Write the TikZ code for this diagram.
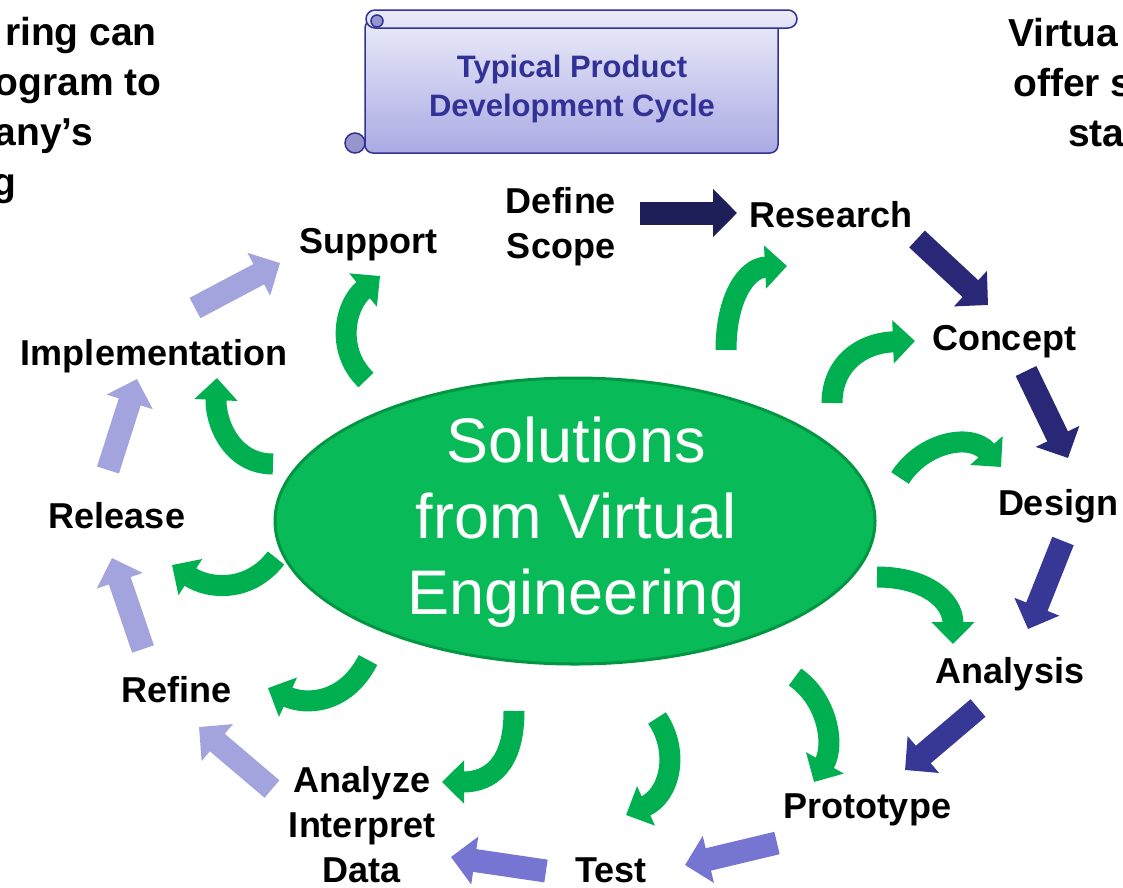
\documentclass[tikz,border=0pt]{standalone}
\usepackage{fontspec}
\setmainfont{Liberation Sans}
\usepackage{tikz}
\usetikzlibrary{arrows.meta,shapes.geometric}
\definecolor{colorhub}{RGB}{8,187,88}
\definecolor{colorrim}{RGB}{0,150,66}
\definecolor{colorback}{RGB}{0,176,80}
\definecolor{colorA}{RGB}{30,30,88}
\definecolor{colorB}{RGB}{40,40,118}
\definecolor{colorC}{RGB}{55,55,150}
\definecolor{colorD}{RGB}{118,118,210}
\definecolor{colorE}{RGB}{163,163,222}
\definecolor{colorink}{RGB}{50,50,150}
\definecolor{colorpapertop}{RGB}{234,234,249}
\definecolor{colorpaperbot}{RGB}{170,170,228}
\definecolor{colorcurl}{RGB}{150,150,205}
\tikzset{phase/.style={inner sep=0pt, font=\bfseries\fontsize{36}{45}\selectfont}}
\tikzset{side/.style={inner sep=0pt, font=\bfseries\fontsize{39}{50}\selectfont}}
\tikzset{paper/.style={draw=colorink, line width=1.5pt, top color=colorpapertop, bottom color=colorpaperbot}}
\tikzset{
  edgeback/.style={colorback, line width=21pt, -{Triangle[length=22pt,width=42pt]}},
  edgeflow/.style={line width=23pt, -{Triangle[length=24pt,width=47pt]}}
}

\begin{document}
\begin{tikzpicture}[x=1pt,y=-1pt]
\useasboundingbox (0,0) rectangle (1123,887);

% cut-off text at the sides
\node[side, anchor=base east](lt1) at (157,45) {ring can};
\node[side, anchor=base east](lt2) at (162,95) {ogram to};
\node[side, anchor=base east](lt3) at (93,145) {any’s};
\node[side, anchor=base east](lt4) at (17,195) {g};
\node[side, anchor=base west](rt1) at (1008,46) {Virtua};
\node[side, anchor=base west](rt2) at (1013,96) {offer s};
\node[side, anchor=base west](rt3) at (1068,146) {sta};

% scroll
\draw[paper, rounded corners=8pt] (365,20) rectangle (778,153);
\draw[paper, top color=colorpapertop, bottom color=colorpapertop!85!colorpaperbot,
  rounded corners=9pt] (366,10) rectangle (797,28);
\draw[draw=colorink, line width=1.5pt, fill=colorcurl] (377,21) circle (6);
\draw[draw=colorink, line width=1.5pt, fill=colorcurl] (355,143) circle (10);
\node[inner sep=0pt, align=center, text=colorink,
  font=\bfseries\fontsize{31}{39}\selectfont](title) at (572,89)
{Typical Product\\Development Cycle};

% hub
\node[ellipse, draw=colorrim, line width=3pt, fill=colorhub,
  minimum width=600pt, minimum height=286pt, inner sep=0pt](hub) at (575,521) {};
\node[inner sep=0pt, align=center, text=white,
  font=\fontsize{63}{76}\selectfont](hubtext) at (576,522)
{Solutions\\from Virtual\\Engineering};

% phases
\node[phase, align=center](scope) at (561,227) {Define\\Scope};
\node[phase, anchor=base](research) at (831,227) {Research};
\node[phase, anchor=base](concept) at (1004,350) {Concept};
\node[phase, anchor=base](design) at (1058,515) {Design};
\node[phase, anchor=base](analysis) at (1010,683) {Analysis};
\node[phase, anchor=base](prototype) at (867,818) {Prototype};
\node[phase, anchor=base](test) at (611,882) {Test};
\node[phase, align=center](analyze) at (362,825) {Analyze\\Interpret\\Data};
\node[phase, anchor=base](refine) at (177,702) {Refine};
\node[phase, anchor=base](release) at (117,528) {Release};
\node[phase, anchor=base](implement) at (154,365) {Implementation};
\node[phase, anchor=base](support) at (368,253) {Support};

% ends of the cycle arrows
\coordinate (f1a) at (640,213);  \coordinate (f1b) at (737,213);
\coordinate (f2a) at (917,239);  \coordinate (f2b) at (988,305);
\coordinate (f3a) at (1026,371); \coordinate (f3b) at (1068,458);
\coordinate (f4a) at (1063,541); \coordinate (f4b) at (1028,629);
\coordinate (f5a) at (978,708);  \coordinate (f5b) at (905,770);
\coordinate (f6a) at (777,843);  \coordinate (f6b) at (685,865);
\coordinate (f7a) at (546,871);  \coordinate (f7b) at (451,857);
\coordinate (f8a) at (272,789);  \coordinate (f8b) at (199,727);
\coordinate (f9a) at (143,649);  \coordinate (f9b) at (112,558);
\coordinate (f10a) at (108,470); \coordinate (f10b) at (137,379);
\coordinate (f11a) at (195,308); \coordinate (f11b) at (280,263);

\draw[edgeflow, colorA] (f1a) -- (f1b);
\draw[edgeflow, colorB] (f2a) -- (f2b);
\draw[edgeflow, colorB] (f3a) -- (f3b);
\draw[edgeflow, colorC] (f4a) -- (f4b);
\draw[edgeflow, colorC] (f5a) -- (f5b);
\draw[edgeflow, colorD] (f6a) -- (f6b);
\draw[edgeflow, colorD] (f7a) -- (f7b);
\draw[edgeflow, colorE] (f8a) -- (f8b);
\draw[edgeflow, colorE] (f9a) -- (f9b);
\draw[edgeflow, colorE] (f10a) -- (f10b);
\draw[edgeflow, colorE] (f11a) -- (f11b);

% ends of the green arrows out of the hub
\coordinate (g1a) at (726,350);  \coordinate (g1b) at (787,266);
\coordinate (g2a) at (832,403);  \coordinate (g2b) at (915,341);
\coordinate (g3a) at (900,478);  \coordinate (g3b) at (1001,467);
\coordinate (g4a) at (877,577);  \coordinate (g4b) at (953,644);
\coordinate (g5a) at (795,677);  \coordinate (g5b) at (814,782);
\coordinate (g6a) at (657,718);  \coordinate (g6b) at (626,815);
\coordinate (g7a) at (514,711);  \coordinate (g7b) at (442,782);
\coordinate (g8a) at (368,660);  \coordinate (g8b) at (268,688);
\coordinate (g9a) at (276,558);  \coordinate (g9b) at (172,565);
\coordinate (g10a) at (273,464); \coordinate (g10b) at (217,378);
\coordinate (g11a) at (366,380); \coordinate (g11b) at (380,276);

\draw[edgeback] (g1a) .. controls (726,300) and (745,268) .. (g1b);
\draw[edgeback] (g2a) .. controls (832,365) and (860,343) .. (g2b);
\draw[edgeback] (g3a) .. controls (922,443) and (970,432) .. (g3b);
\draw[edgeback] (g4a) .. controls (925,577) and (953,600) .. (g4b);
\draw[edgeback] (g5a) .. controls (828,700) and (835,745) .. (g5b);
\draw[edgeback] (g6a) .. controls (680,752) and (670,795) .. (g6b);
\draw[edgeback] (g7a) .. controls (514,765) and (490,782) .. (g7b);
\draw[edgeback] (g8a) .. controls (345,705) and (305,705) .. (g8b);
\draw[edgeback] (g9a) .. controls (250,592) and (210,590) .. (g9b);
\draw[edgeback] (g10a) .. controls (230,464) and (215,420) .. (g10b);
\draw[edgeback] (g11a) .. controls (335,350) and (345,305) .. (g11b);
\end{tikzpicture}
\end{document}
